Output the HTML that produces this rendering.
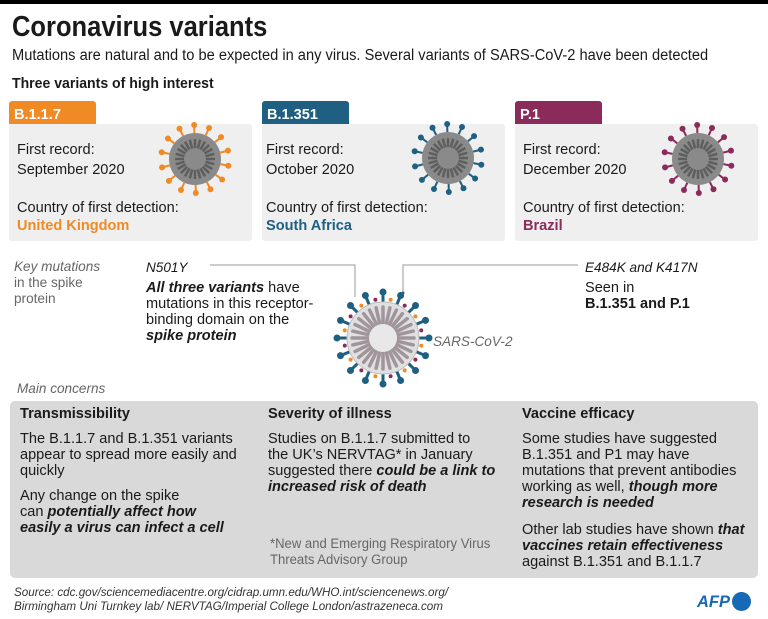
<!DOCTYPE html>
<html><head><meta charset="utf-8">
<style>
*{margin:0;padding:0;box-sizing:border-box}
body{width:768px;height:619px;background:#fff;position:relative;overflow:hidden;font-family:"Liberation Sans",sans-serif;color:#1a1a1a}
.t{position:absolute;white-space:nowrap;transform:scaleX(.97);transform-origin:0 0;font-size:15px;line-height:16px}
.b{font-weight:bold}.i{font-style:italic}
.g{color:#666}
.box{position:absolute;background:#efefef;border-radius:3px}
.tab{position:absolute;height:23px;width:87px;border-radius:3px 3px 0 0;color:#fff;font-weight:bold;font-size:18px;line-height:24px;padding-left:5px}
svg{position:absolute}
</style></head><body>
<div style="position:absolute;left:0;top:0;width:768px;height:4px;background:#000"></div>
<div class="t b" style="left:12px;top:11px;font-size:29px;line-height:32px;transform:scaleX(.88)">Coronavirus variants</div>
<div class="t" style="left:12px;top:48px;font-size:15.5px;transform:scaleX(.945)">Mutations are natural and to be expected in any virus. Several variants of SARS-CoV-2 have been detected</div>
<div class="t b" style="left:12px;top:76px;font-size:14.5px">Three variants of high interest</div>

<div class="box" style="left:9px;top:124px;width:243px;height:117px"></div>
<div class="tab" style="left:9px;top:101px;background:#ef8a25"><span class="t" style="position:static;display:inline-block">B.1.1.7</span></div>
<div class="box" style="left:262px;top:124px;width:243px;height:117px"></div>
<div class="tab" style="left:262px;top:101px;background:#1e5f82"><span class="t" style="position:static;display:inline-block">B.1.351</span></div>
<div class="box" style="left:515px;top:124px;width:243px;height:117px"></div>
<div class="tab" style="left:515px;top:101px;background:#8b2b5c"><span class="t" style="position:static;display:inline-block">P.1</span></div>

<div class="t" style="left:17px;top:142px">First record:</div>
<div class="t" style="left:17px;top:162px">September 2020</div>
<div class="t" style="left:17px;top:200px">Country of first detection:</div>
<div class="t b" style="left:17px;top:218px;color:#ef8a25">United Kingdom</div>
<div class="t" style="left:266px;top:142px">First record:</div>
<div class="t" style="left:266px;top:162px">October 2020</div>
<div class="t" style="left:266px;top:200px">Country of first detection:</div>
<div class="t b" style="left:266px;top:218px;color:#1e5f82">South Africa</div>
<div class="t" style="left:523px;top:142px">First record:</div>
<div class="t" style="left:523px;top:162px">December 2020</div>
<div class="t" style="left:523px;top:200px">Country of first detection:</div>
<div class="t b" style="left:523px;top:218px;color:#8b2b5c">Brazil</div>

<svg id="v1" style="left:155px;top:119px" width="80" height="80"></svg>
<svg id="v2" style="left:408px;top:118px" width="80" height="80"></svg>
<svg id="v3" style="left:658px;top:119px" width="80" height="80"></svg>

<div class="t i g" style="left:14px;top:258px;font-size:14px">Key mutations</div>
<div class="t g" style="left:14px;top:274px;font-size:14px">in the spike</div>
<div class="t g" style="left:14px;top:290px;font-size:14px">protein</div>
<div class="t i" style="left:146px;top:259px;font-size:14px">N501Y</div>
<div class="t" style="left:146px;top:280px"><b><i>All three variants</i></b> have</div>
<div class="t" style="left:146px;top:296px">mutations in this receptor-</div>
<div class="t" style="left:146px;top:312px">binding domain on the</div>
<div class="t b i" style="left:146px;top:328px">spike protein</div>
<div class="t i" style="left:585px;top:259px;font-size:14px">E484K and K417N</div>
<div class="t" style="left:585px;top:280px">Seen in</div>
<div class="t b" style="left:585px;top:296px">B.1.351 and P.1</div>
<svg style="left:0;top:0" width="768" height="619"><path d="M210 265H355V297M403 297V265H578" fill="none" stroke="#999" stroke-width="1"/><circle cx="403" cy="293" r="1.5" fill="#555"/></svg>
<svg id="v0" style="left:333px;top:288px" width="100" height="100"></svg>
<div class="t i g" style="left:433px;top:333px;font-size:14px">SARS-CoV-2</div>

<div class="t i g" style="left:17px;top:380px;font-size:14px">Main concerns</div>
<div class="box" style="left:10px;top:401px;width:748px;height:177px;background:#d9d9d9;border-radius:5px"></div>
<div class="t b" style="left:20px;top:406px">Transmissibility</div>
<div class="t" style="left:20px;top:431px">The B.1.1.7 and B.1.351 variants</div>
<div class="t" style="left:20px;top:447px">appear to spread more easily and</div>
<div class="t" style="left:20px;top:463px">quickly</div>
<div class="t" style="left:20px;top:488px">Any change on the spike</div>
<div class="t" style="left:20px;top:504px">can <b><i>potentially affect how</i></b></div>
<div class="t b i" style="left:20px;top:520px">easily a virus can infect a cell</div>
<div class="t b" style="left:268px;top:406px">Severity of illness</div>
<div class="t" style="left:268px;top:431px">Studies on B.1.1.7 submitted to</div>
<div class="t" style="left:268px;top:447px">the UK’s NERVTAG* in January</div>
<div class="t" style="left:268px;top:463px">suggested there <b><i>could be a link to</i></b></div>
<div class="t b i" style="left:268px;top:479px">increased risk of death</div>
<div class="t g" style="left:270px;top:536px;font-size:13.5px">*New and Emerging Respiratory Virus</div>
<div class="t g" style="left:270px;top:552px;font-size:13.5px">Threats Advisory Group</div>
<div class="t b" style="left:522px;top:406px">Vaccine efficacy</div>
<div class="t" style="left:522px;top:431px">Some studies have suggested</div>
<div class="t" style="left:522px;top:447px">B.1.351 and P1 may have</div>
<div class="t" style="left:522px;top:463px">mutations that prevent antibodies</div>
<div class="t" style="left:522px;top:479px">working as well, <b><i>though more</i></b></div>
<div class="t b i" style="left:522px;top:495px">research is needed</div>
<div class="t" style="left:522px;top:522px">Other lab studies have shown <b><i>that</i></b></div>
<div class="t b i" style="left:522px;top:538px">vaccines retain effectiveness</div>
<div class="t" style="left:522px;top:554px">against B.1.351 and B.1.1.7</div>

<div class="t i" style="left:14px;top:585px;font-size:12px;line-height:14px;color:#333">Source: cdc.gov/sciencemediacentre.org/cidrap.umn.edu/WHO.int/sciencenews.org/</div>
<div class="t i" style="left:14px;top:599px;font-size:12px;line-height:14px;color:#333">Birmingham Uni Turnkey lab/ NERVTAG/Imperial College London/astrazeneca.com</div>
<div class="t b i" style="left:697px;top:593px;font-size:17px;line-height:18px;color:#1768b5">AFP</div>
<div style="position:absolute;left:732px;top:592px;width:19px;height:19px;border-radius:50%;background:#1768b5"></div>

<script>
var NS="http://www.w3.org/2000/svg";
function el(s,t,a){var e=document.createElementNS(NS,t);for(var k in a)e.setAttribute(k,a[k]);s.appendChild(e);return e;}
function small(id,col){var s=document.getElementById(id),c=40,r=26;
 for(var i=0;i<14;i++){var a=i/14*2*Math.PI+.2,x1=c+Math.cos(a)*r,y1=c+Math.sin(a)*r,x2=c+Math.cos(a)*(r+8),y2=c+Math.sin(a)*(r+8);
  el(s,"line",{x1:x1,y1:y1,x2:x2,y2:y2,stroke:col,"stroke-width":2});
  el(s,"circle",{cx:x2,cy:y2,r:3,fill:col});}
 el(s,"circle",{cx:c,cy:c,r:r,fill:"#8a8a8a"});
 for(var i=0;i<24;i++){var a=i/24*2*Math.PI;el(s,"line",{x1:c+Math.cos(a)*10,y1:c+Math.sin(a)*10,x2:c+Math.cos(a)*20,y2:c+Math.sin(a)*20,stroke:"#5e5e5e","stroke-width":2.5});}
 el(s,"circle",{cx:c,cy:c,r:11,fill:"#8a8a8a"});}
small("v1","#ef8a25");small("v2","#1e5f82");small("v3","#8b2b5c");
(function(){var s=document.getElementById("v0"),c=50,r=36;
 for(var i=0;i<16;i++){var a=i/16*2*Math.PI,x2=c+Math.cos(a)*(r+10),y2=c+Math.sin(a)*(r+10);
  el(s,"line",{x1:c+Math.cos(a)*r,y1:c+Math.sin(a)*r,x2:x2,y2:y2,stroke:"#1e5f82","stroke-width":3});
  el(s,"circle",{cx:x2,cy:y2,r:3.5,fill:"#1e5f82"});
  var b=a+Math.PI/16;el(s,"circle",{cx:c+Math.cos(b)*(r+3),cy:c+Math.sin(b)*(r+3),r:2,fill:i%2?"#8b2b5c":"#ef8a25"});}
 el(s,"circle",{cx:c,cy:c,r:r,fill:"#e0e0e0",stroke:"#bbb"});
 for(var i=0;i<28;i++){var a=i/28*2*Math.PI;el(s,"line",{x1:c+Math.cos(a)*15,y1:c+Math.sin(a)*15,x2:c+Math.cos(a)*31,y2:c+Math.sin(a)*31,stroke:"#a0959a","stroke-width":3.5,"stroke-linecap":"round"});}
 el(s,"circle",{cx:c,cy:c,r:14,fill:"#e8e8e8"});})();
</script>
</body></html>
